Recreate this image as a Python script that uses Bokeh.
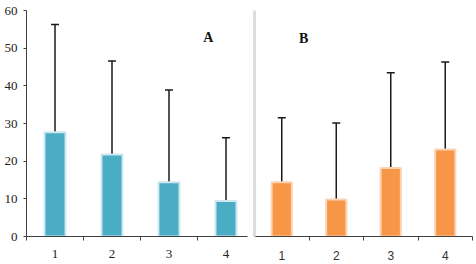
from bokeh.plotting import figure
from bokeh.layouts import row
from bokeh.models import (ColumnDataSource, Range1d, FixedTicker, Whisker, TeeHead, Label)
from bokeh.embed import file_html
from bokeh.resources import INLINE

categories = [1, 2, 3, 4]
a_means = [27.7, 21.8, 14.4, 9.4]
a_upper = [56.3, 46.6, 38.9, 26.2]
b_means = [14.7, 10.0, 18.6, 23.6]
b_upper = [32.2, 30.8, 44.4, 47.3]
y_ticks = [0, 10, 20, 30, 40, 50, 60]

BLUE = "#4BACC6"
ORANGE = "#F79646"
AXIS = "#404040"


def base_fig(width, x_end, y_end, lb, rb, tb, bb):
    p = figure(width=width, height=264, output_backend="svg", toolbar_location=None,
               x_range=Range1d(0.5, x_end), y_range=Range1d(0, y_end),
               min_border_left=lb, min_border_right=rb, min_border_top=tb, min_border_bottom=bb)
    p.outline_line_color = None
    p.xgrid.visible = False
    p.ygrid.visible = False
    p.background_fill_color = "white"
    p.border_fill_color = "white"
    return p


# ---- Panel A ----
pa = base_fig(252, 0.5 + 221 / 57.0, 60, 26, 5, 10, 28)
src_a = ColumnDataSource(dict(x=categories, top=a_means, up=a_upper))
pa.vbar(x="x", top="top", width=0.37, source=src_a, fill_color=BLUE,
        line_color="#cfe8f0", line_width=2)
pa.add_layout(Whisker(source=src_a, base="x", lower="top", upper="up",
                      line_color="#1a1a1a", line_width=1.5,
                      lower_head=None,
                      upper_head=TeeHead(size=8, line_color="#1a1a1a", line_width=1.5)))
pa.yaxis.ticker = FixedTicker(ticks=y_ticks)
pa.yaxis.axis_line_color = AXIS
pa.yaxis.major_tick_line_color = AXIS
pa.yaxis.major_tick_out = 3
pa.yaxis.major_tick_in = 0
pa.yaxis.minor_tick_line_color = None
pa.yaxis.major_label_standoff = 6
pa.yaxis.major_label_text_font = "Liberation Serif"
pa.yaxis.major_label_text_font_size = "13px"
pa.yaxis.major_label_text_color = "#222222"

pa.xaxis.ticker = FixedTicker(ticks=categories, minor_ticks=[0.5, 1.5, 2.5, 3.5])
pa.xaxis.axis_line_color = AXIS
pa.xaxis.major_tick_line_color = None
pa.xaxis.major_tick_out = 0
pa.xaxis.major_tick_in = 0
pa.xaxis.minor_tick_line_color = AXIS
pa.xaxis.minor_tick_out = 4
pa.xaxis.minor_tick_in = 0
pa.xaxis.major_label_standoff = 9
pa.xaxis.major_label_text_font = "Liberation Serif"
pa.xaxis.major_label_text_font_size = "13px"
pa.xaxis.major_label_text_color = "#222222"

pa.add_layout(Label(x=3.69, y=52.8, text="A", text_align="center", text_baseline="middle",
                    text_font="Liberation Serif", text_font_style="bold",
                    text_font_size="14px", text_color="#111111"))

# ---- Panel B ----
pb = base_fig(224, 4.5, 231 / 3.77, 2, 4, 8, 25)
src_b = ColumnDataSource(dict(x=categories, top=b_means, up=b_upper))
pb.vbar(x="x", top="top", width=0.37, source=src_b, fill_color=ORANGE,
        line_color="#fbd3b3", line_width=2)
pb.add_layout(Whisker(source=src_b, base="x", lower="top", upper="up",
                      line_color="#1a1a1a", line_width=1.5,
                      lower_head=None,
                      upper_head=TeeHead(size=8, line_color="#1a1a1a", line_width=1.5)))
pb.yaxis.ticker = FixedTicker(ticks=[])
pb.yaxis.axis_line_color = "#dddddd"
pb.yaxis.axis_line_width = 3
pb.yaxis.major_tick_line_color = None
pb.yaxis.minor_tick_line_color = None
pb.yaxis.major_tick_out = 0
pb.yaxis.major_label_standoff = 0
pb.yaxis.major_label_text_font_size = "0px"

pb.xaxis.ticker = FixedTicker(ticks=categories, minor_ticks=[1.5, 2.5, 3.5, 4.5])
pb.xaxis.axis_line_color = AXIS
pb.xaxis.major_tick_line_color = None
pb.xaxis.major_tick_out = 0
pb.xaxis.major_tick_in = 0
pb.xaxis.minor_tick_line_color = AXIS
pb.xaxis.minor_tick_out = 4
pb.xaxis.minor_tick_in = 0
pb.xaxis.major_label_standoff = 10
pb.xaxis.major_label_text_font = "Liberation Sans"
pb.xaxis.major_label_text_font_size = "12px"
pb.xaxis.major_label_text_color = "#333333"

pb.add_layout(Label(x=1.4, y=53.6, text="B", text_align="center", text_baseline="middle",
                    text_font="Liberation Serif", text_font_style="bold",
                    text_font_size="14px", text_color="#111111"))

layout = row(pa, pb)
open("out.html", "w").write(file_html(layout, INLINE))
